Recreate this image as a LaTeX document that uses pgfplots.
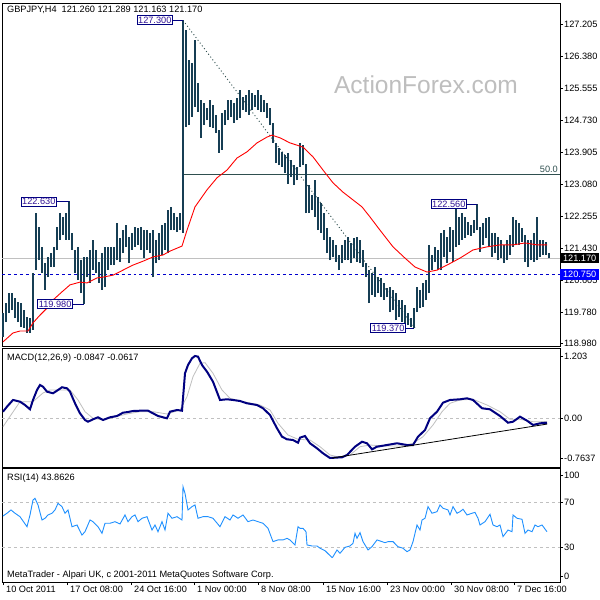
\documentclass[border=0pt]{standalone}
\usepackage{pgfplots}
\pgfplotsset{compat=1.18}
\usepackage{pgfplotstable}
\usepackage{fontspec}
\setmainfont{Liberation Sans}
\newcommand\fnt{\fontsize{9.2bp}{11bp}\selectfont}

\definecolor{barcol}{RGB}{22,62,84}
\definecolor{mtnavy}{RGB}{0,0,128}
\definecolor{fibcol}{RGB}{47,79,79}
\definecolor{rsicol}{RGB}{30,144,255}
\definecolor{silv}{RGB}{192,192,192}
\definecolor{lblcol}{RGB}{50,20,150}
\definecolor{wmark}{RGB}{190,190,190}

% H4 bars: x position, low, high
\pgfplotstableread{
x lo hi
3 119.14 119.75
6 119.52 120.01
9 119.75 120.27
12 119.83 120.27
15 119.62 120.14
18 119.52 120.04
21 119.39 120.01
24 119.37 119.83
27 119.24 119.65
30 119.24 119.62
33 119.32 120.79
36 120.86 122.33
39 121.12 121.97
42 120.79 121.46
45 120.35 121.04
48 120.68 121.20
51 120.94 121.30
54 120.94 121.46
57 121.38 121.97
60 121.64 122.33
63 121.77 122.23
66 121.64 122.33
69 121.64 122.63
72 121.38 121.82
75 120.79 121.38
78 120.60 121.46
81 120.27 121.12
84 119.98 121.20
87 120.68 121.20
90 120.53 121.38
93 120.86 121.64
96 120.79 121.38
99 120.53 121.07
102 120.35 121.30
105 120.42 121.46
108 120.86 121.46
111 120.99 121.46
114 120.99 121.46
117 121.12 122.07
120 121.07 121.69
123 121.30 121.89
126 121.46 122.02
129 121.04 121.71
132 121.38 121.82
135 121.46 121.97
138 121.51 121.94
141 121.38 121.97
144 121.17 121.89
147 121.38 121.89
150 121.30 121.82
153 120.68 121.89
156 121.04 121.64
159 121.12 121.82
162 121.25 122.02
165 121.38 122.07
168 121.30 122.41
171 121.89 122.49
174 121.89 122.33
177 121.84 122.23
180 121.89 122.33
183 121.82 127.30
186 124.55 127.05
189 124.60 126.28
192 124.81 126.20
195 125.07 126.79
198 124.94 125.68
201 124.27 125.25
204 124.60 125.17
207 124.73 125.04
210 124.55 125.25
213 124.52 125.12
216 124.40 124.86
219 123.88 124.47
222 123.96 124.91
225 124.60 124.99
228 124.73 125.25
231 124.81 125.25
234 124.65 125.17
237 124.73 125.30
240 124.78 125.50
243 124.99 125.32
246 124.94 125.37
249 124.86 125.50
252 124.99 125.43
255 125.07 125.37
258 124.99 125.50
261 124.94 125.37
264 124.94 125.25
267 124.78 125.17
270 124.60 125.04
273 124.14 124.65
276 123.62 124.14
279 123.57 124.01
282 123.52 123.91
285 123.36 123.83
288 123.09 123.88
291 123.26 123.70
294 123.05 123.57
297 123.18 123.52
300 123.52 124.14
303 123.57 124.09
306 122.33 123.60
309 122.33 123.05
312 122.41 122.80
315 122.23 123.18
318 121.89 122.75
321 121.82 122.59
324 121.64 122.33
327 121.30 121.94
330 121.12 121.71
333 121.20 121.64
336 121.07 121.51
339 120.86 121.25
342 121.04 121.51
345 121.12 121.64
348 121.12 121.71
351 121.04 121.56
354 121.17 121.69
357 121.07 121.71
360 121.04 121.64
363 120.94 121.38
366 120.68 121.04
369 120.01 120.86
372 120.22 120.79
375 120.17 120.94
378 120.27 120.68
381 120.17 120.66
384 120.09 120.53
387 120.17 120.40
390 119.78 120.42
393 119.83 120.35
396 119.57 120.27
399 119.65 120.09
402 119.52 120.09
405 119.39 119.96
408 119.44 119.75
411 119.40 119.62
414 119.37 119.88
417 119.78 120.42
420 119.88 120.35
423 119.91 120.53
426 120.09 120.60
429 120.27 121.51
432 120.86 121.25
435 121.07 121.46
438 120.86 121.38
441 120.86 121.82
444 121.20 121.89
447 121.04 121.71
450 121.33 121.97
453 121.07 121.89
456 121.46 122.55
459 121.51 122.23
462 121.64 122.33
465 121.69 122.23
468 121.77 122.10
471 121.74 122.02
474 121.82 122.15
477 121.89 122.56
480 121.33 121.97
483 121.51 122.07
486 121.69 122.20
489 121.46 122.23
492 121.20 121.82
495 121.30 121.82
498 121.12 121.71
501 121.17 121.64
504 121.04 121.51
507 121.12 121.64
510 121.25 121.77
513 121.46 122.23
516 121.51 122.15
519 121.51 122.07
522 121.58 121.94
525 121.07 121.77
528 120.94 121.64
531 121.12 121.64
534 121.07 121.82
537 121.12 122.23
540 121.20 121.64
543 121.25 121.64
546 121.25 121.58
549 121.16 121.29
}\bars

% moving average (red)
\pgfplotstableread{
x y
3 119.01
13 119.24
20 119.29
28 119.29
33 119.50
40 119.70
47 119.88
53 120.09
62 120.30
70 120.48
80 120.55
87 120.53
97 120.66
103 120.68
113 120.73
123 120.86
133 120.99
143 121.09
153 121.20
163 121.25
170 121.35
182 121.48
187 121.89
195 122.49
207 122.93
217 123.24
227 123.44
237 123.75
247 123.91
257 124.14
267 124.29
272 124.34
280 124.27
290 124.14
303 124.03
313 123.78
323 123.44
333 123.11
343 122.87
353 122.67
362 122.49
370 122.23
380 121.89
393 121.46
405 121.17
415 120.94
427 120.81
437 120.86
447 120.99
460 121.17
473 121.38
487 121.46
500 121.51
513 121.51
525 121.56
537 121.51
547 121.51
}\ma

% MACD main line
\pgfplotstableread{
x y
3 0.129
7 0.226
13 0.355
20 0.322
25 0.258
30 0.175
33 0.355
37 0.547
40 0.644
43 0.611
47 0.515
53 0.484
58 0.547
62 0.600
67 0.580
70 0.515
75 0.291
80 0.098
85 -0.031
88 -0.064
93 -0.018
98 0.021
103 -0.031
110 0.021
117 0.046
123 0.110
128 0.123
133 0.142
140 0.148
148 0.148
153 0.098
158 0.046
163 0.021
167 0.002
170 0.129
177 0.162
182 0.148
185 0.869
188 1.029
192 1.159
195 1.203
198 1.190
202 1.029
207 0.900
213 0.707
220 0.355
227 0.368
233 0.355
240 0.335
247 0.291
257 0.258
263 0.195
270 0.065
277 -0.191
282 -0.353
287 -0.403
293 -0.417
298 -0.469
300 -0.372
305 -0.340
310 -0.480
317 -0.577
323 -0.673
330 -0.7637
337 -0.755
342 -0.750
347 -0.706
355 -0.546
362 -0.450
367 -0.480
372 -0.596
377 -0.546
387 -0.513
397 -0.480
407 -0.513
413 -0.513
418 -0.353
425 -0.224
430 0.002
437 0.129
443 0.303
450 0.355
460 0.368
467 0.387
473 0.355
482 0.195
490 0.175
500 0.046
508 -0.083
513 -0.064
520 0.033
527 -0.044
533 -0.127
540 -0.095
547 -0.085
}\macd

% MACD signal line
\pgfplotstableread{
x y
3 -0.160
20 0.322
33 0.322
43 0.490
50 0.547
60 0.547
70 0.547
78 0.355
85 0.129
93 0.002
103 -0.031
113 0.021
127 0.085
140 0.129
153 0.129
167 0.085
180 0.162
187 0.418
193 0.804
200 1.062
205 1.074
213 0.869
222 0.547
230 0.387
243 0.322
260 0.258
270 0.162
278 -0.095
288 -0.320
298 -0.403
310 -0.417
320 -0.546
330 -0.706
340 -0.750
350 -0.706
360 -0.546
370 -0.513
383 -0.532
400 -0.532
413 -0.480
423 -0.353
433 -0.127
442 0.129
450 0.291
460 0.355
473 0.368
487 0.258
500 0.129
510 -0.018
520 -0.018
533 -0.064
547 -0.062
}\signal

% RSI(14)
\pgfplotstableread{
x y
3 57.9
7 60.3
11 63.2
15 60.3
20 57.3
27 48.5
30 58.8
33 71.9
35 73.4
38 67.6
42 54.4
45 55.9
48 58.8
52 60.3
55 63.2
58 69.0
62 66.1
65 60.3
68 63.2
72 48.5
77 50.0
82 41.2
85 44.1
90 54.4
93 52.9
98 48.5
102 42.7
105 51.5
110 51.5
115 52.9
120 50.9
125 58.8
128 52.9
132 57.3
135 58.8
138 52.9
142 55.9
147 57.3
152 45.6
155 50.0
158 44.1
162 52.9
165 45.6
168 60.3
172 55.9
177 57.3
182 54.4
183 83.6
185 77.8
188 63.2
192 66.1
195 67.6
198 55.9
203 57.3
208 57.3
213 55.9
220 48.5
225 57.3
230 54.4
233 58.8
238 55.9
243 58.8
248 52.9
253 54.4
258 52.9
263 51.5
268 47.1
273 35.4
278 36.9
283 36.9
287 38.3
290 36.9
295 32.5
298 48.5
300 47.1
303 47.1
306 44.1
307 32.5
312 31.6
317 31.6
320 29.6
325 27.5
332 21.4
333 22.2
337 28.1
340 25.2
345 30.4
350 31.6
353 34.0
355 42.7
357 38.3
360 43.3
363 35.4
368 28.1
372 31.0
377 36.9
382 35.4
385 34.5
388 35.4
393 35.4
398 31.0
403 29.6
407 26.6
410 28.1
413 35.4
417 50.0
420 45.6
422 54.4
425 55.9
428 66.1
432 60.3
437 61.7
440 67.6
443 64.7
448 63.2
450 58.8
453 66.1
457 60.3
460 61.7
463 63.8
467 58.8
472 60.3
475 61.1
478 55.9
480 50.0
485 52.9
490 59.4
493 50.0
497 48.5
500 50.0
503 39.8
508 45.6
512 44.1
513 58.8
517 55.9
522 55.0
525 42.7
528 45.6
532 44.1
535 50.0
538 48.5
542 50.0
547 44.1
}\rsi

\pgfplotsset{
  mt/.style={scale only axis, width=558bp, xmin=2, xmax=560,
    axis line style={line width=0.8bp},
    xtick=\empty, ytick pos=right, yticklabel pos=right,
    tick align=outside, major tick length=3bp,
    every tick/.style={black, line width=0.8bp},
    tick label style={font=\fnt, inner sep=0pt},
    yticklabel style={anchor=west, xshift=1bp},
    clip=false},
}
\tikzset{
  pricelbl/.style={draw=mtnavy, fill=white, text=lblcol, line width=0.8bp,
    inner sep=1.2bp, font=\fnt},
}

\begin{document}
\begin{tikzpicture}[x=1bp,y=1bp]
\useasboundingbox (0,0) rectangle (600,600);
\fill[white] (0,0) rectangle (600,600);

% ---- price window ----
\begin{axis}[mt, at={(2bp,254bp)}, anchor=south west, height=343bp,
  ymin=118.904, ymax=127.747,
  ytick={118.98,119.78,120.605,121.43,122.255,123.08,123.905,124.73,125.555,126.38,127.205},
  yticklabels={118.980,119.780,120.605,121.430,122.255,123.080,123.905,124.730,125.555,126.380,127.205}]
\draw[silv, line width=0.8bp] (axis cs:2,121.17) -- (axis cs:560,121.17);
\draw[blue!80!black, dashed, line width=0.8bp] (axis cs:2,120.75) -- (axis cs:560,120.75);
\draw[fibcol, line width=0.8bp] (axis cs:183,123.335) -- (axis cs:560,123.335);
\node[fibcol, font=\fnt, anchor=south east, inner sep=1bp] at (axis cs:559,123.335) {50.0};
\draw[fibcol, dash pattern=on 1bp off 2.5bp, line width=0.9bp] (axis cs:183,127.30) -- (axis cs:415,119.37);
\addplot[draw=none, mark=none, forget plot,
  error bars/.cd, y dir=plus, y explicit, error mark=none,
  error bar style={draw=barcol, line width=1.1bp, solid}]
  table[x=x, y=lo, y error plus expr=\thisrow{hi}-\thisrow{lo}] {\bars};
\addplot[red, line width=0.9bp, mark=none] table[x=x, y=y] {\ma};
% zigzag labels
\draw[mtnavy, line width=0.8bp] (axis cs:173,127.30) -- (axis cs:183,127.30);
\node[pricelbl, anchor=east] at (axis cs:173,127.30) {127.300};
\draw[mtnavy, line width=0.8bp] (axis cs:57,122.63) -- (axis cs:69,122.63);
\node[pricelbl, anchor=east] at (axis cs:57,122.63) {122.630};
\draw[mtnavy, line width=0.8bp] (axis cs:73,119.98) -- (axis cs:84,119.98);
\node[pricelbl, anchor=east] at (axis cs:73,119.98) {119.980};
\draw[mtnavy, line width=0.8bp] (axis cs:406,119.37) -- (axis cs:414,119.37);
\node[pricelbl, anchor=east] at (axis cs:406,119.37) {119.370};
\draw[mtnavy, line width=0.8bp] (axis cs:467,122.56) -- (axis cs:477,122.56);
\node[pricelbl, anchor=east] at (axis cs:467,122.56) {122.560};
\coordinate (bid) at (axis cs:560,121.17);
\coordinate (lvl) at (axis cs:560,120.75);
\end{axis}
\node[anchor=west, fill=black, text=white, font=\fnt, inner sep=1bp, minimum height=10.5bp, minimum width=39bp] at (bid) {121.170};
\node[anchor=west, fill=blue, text=white, font=\fnt, inner sep=1bp, minimum height=10.5bp, minimum width=39bp] at (lvl) {120.750};
\node[anchor=west, font=\fnt, inner sep=0pt] at (7,590) {GBPJPY,H4\ \ 121.260 121.289 121.163 121.170};
\node[wmark, font=\fontsize{24.5bp}{27bp}\selectfont, inner sep=0pt] at (426,515) {ActionForex.com};

% ---- MACD window ----
\begin{axis}[mt, at={(2bp,133bp)}, anchor=south west, height=119bp,
  ymin=-0.937, ymax=1.357,
  ytick={-0.7637,0,1.203}, yticklabels={-0.7637,0.00,1.203}]
\draw[silv, dashed, line width=0.8bp] (axis cs:2,0) -- (axis cs:560,0);
\addplot[silv, line width=0.8bp, mark=none] table[x=x, y=y] {\signal};
\addplot[mtnavy, line width=2bp, mark=none] table[x=x, y=y] {\macd};
\draw[black, line width=0.8bp] (axis cs:332,-0.7637) -- (axis cs:547,-0.11);
\end{axis}
\node[anchor=west, font=\fnt, inner sep=0pt] at (7,242) {MACD(12,26,9) -0.0847 -0.0617};

% ---- RSI window ----
\begin{axis}[mt, at={(2bp,18bp)}, anchor=south west, height=114bp,
  ymin=0, ymax=100,
  ytick={5.3,30,70,93.9}, yticklabels={0,30,70,100},
  xtick={3,67,131,194,258,323,387,451,514},
  xticklabels={10 Oct 2011,17 Oct 08:00,24 Oct 16:00,1 Nov 00:00,8 Nov 08:00,15 Nov 16:00,23 Nov 00:00,30 Nov 08:00,7 Dec 16:00},
  xtick pos=bottom, xticklabel style={anchor=north west, xshift=3bp, yshift=-1bp}]
\draw[silv, dashed, line width=0.8bp] (axis cs:2,70) -- (axis cs:560,70);
\draw[silv, dashed, line width=0.8bp] (axis cs:2,30) -- (axis cs:560,30);
\addplot[rsicol, line width=0.9bp, mark=none] table[x=x, y=y] {\rsi};
\end{axis}
\node[anchor=west, font=\fnt, inner sep=0pt] at (7,122) {RSI(14) 43.8626};
\node[anchor=west, font=\fnt, inner sep=0pt] at (7,25) {MetaTrader - Alpari UK, c 2001-2011 MetaQuotes Software Corp.};
\end{tikzpicture}
\end{document}
